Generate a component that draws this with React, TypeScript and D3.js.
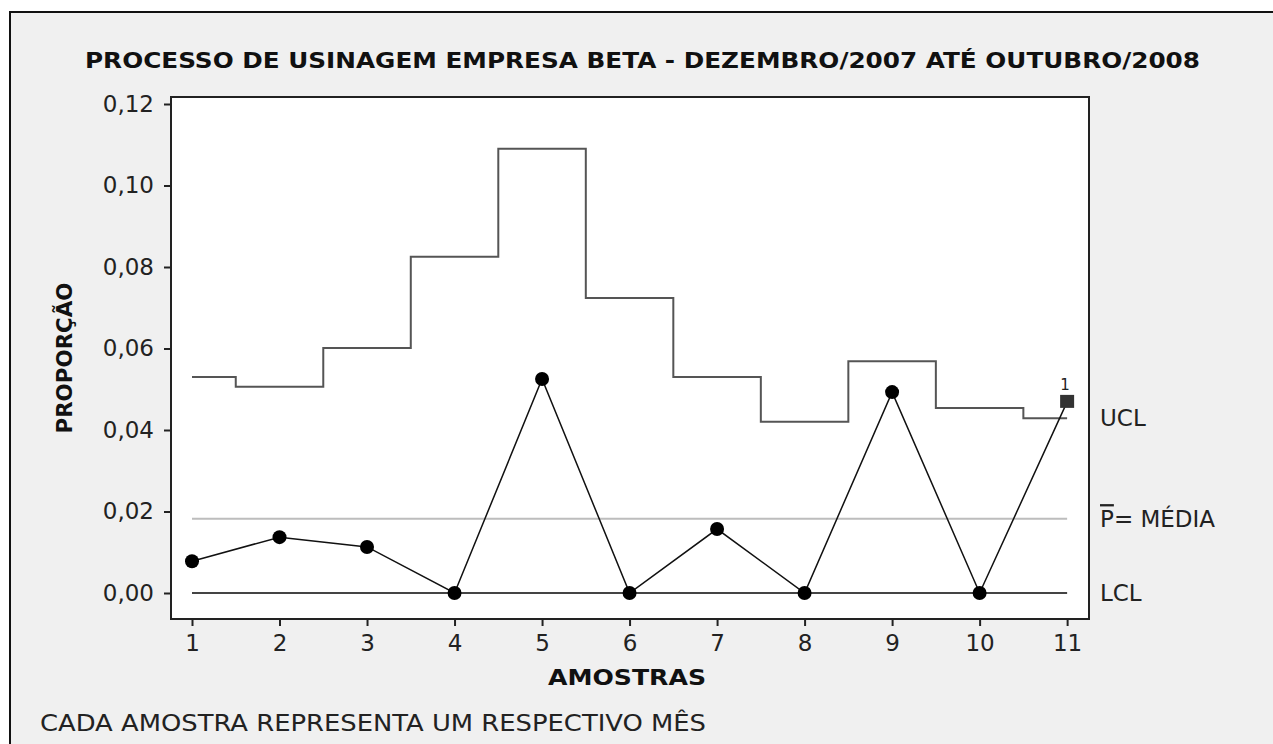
import React, { useEffect, useRef } from 'react'
import * as d3 from 'd3'

// amostras mensais (dez/2007 a out/2008)
const amostras = [1, 2, 3, 4, 5, 6, 7, 8, 9, 10, 11]
const proporcao = [0.0078, 0.0137, 0.0113, 0, 0.0525, 0, 0.0157, 0, 0.0493, 0, 0.0469]
const ucl = [0.053, 0.0506, 0.0601, 0.0825, 0.109, 0.0724, 0.053, 0.042, 0.0569, 0.0454, 0.0429]
const pMedia = 0.0182
const lcl = 0
const yTicks = [0, 0.02, 0.04, 0.06, 0.08, 0.1, 0.12]
// pontos que falharam o teste 1
const foraDeControle = [11]

const FONT = '"DejaVu Sans", Verdana, sans-serif'

export default function App () {
  const ref = useRef<SVGSVGElement>(null)

  useEffect(() => {
    const svg = d3.select(ref.current)
    svg.selectAll('*').remove()

    const left = 171
    const top = 97
    const right = 1089
    const bottom = 619

    const x = d3.scaleLinear().domain([0.76, 11.25]).range([left, right])
    const y = d3.scaleLinear().domain([0, 0.12]).range([593, 104])

    // moldura externa
    svg.append('rect')
      .attr('x', 10).attr('y', 12)
      .attr('width', 1300).attr('height', 800)
      .attr('fill', '#f0f0f0')
      .attr('stroke', '#111').attr('stroke-width', 2)

    svg.append('rect')
      .attr('x', left).attr('y', top)
      .attr('width', right - left).attr('height', bottom - top)
      .attr('fill', '#fff')
      .attr('stroke', '#222').attr('stroke-width', 2)

    // limite superior (degraus)
    const stepLine = d3.line<number>()
      .x((d, i) => x(amostras[i]))
      .y(d => y(d))
      .curve(d3.curveStep)

    svg.append('path')
      .attr('d', stepLine(ucl))
      .attr('fill', 'none')
      .attr('stroke', '#555').attr('stroke-width', 2)

    const x0 = x(amostras[0])
    const x1 = x(amostras[amostras.length - 1])

    svg.append('line')
      .attr('x1', x0).attr('x2', x1)
      .attr('y1', y(pMedia)).attr('y2', y(pMedia))
      .attr('stroke', '#bdbdbd').attr('stroke-width', 2)

    svg.append('line')
      .attr('x1', x0).attr('x2', x1)
      .attr('y1', y(lcl)).attr('y2', y(lcl))
      .attr('stroke', '#444').attr('stroke-width', 2)

    // proporcoes
    const dataLine = d3.line<number>()
      .x((d, i) => x(amostras[i]))
      .y(d => y(d))

    svg.append('path')
      .attr('d', dataLine(proporcao))
      .attr('fill', 'none')
      .attr('stroke', '#111').attr('stroke-width', 1.5)

    const pts = amostras.map((a, i) => ({ a, v: proporcao[i] }))

    svg.selectAll('circle.pt')
      .data(pts.filter(p => !foraDeControle.includes(p.a)))
      .enter().append('circle')
      .attr('class', 'pt')
      .attr('cx', d => x(d.a))
      .attr('cy', d => y(d.v))
      .attr('r', 7)
      .attr('fill', '#000')

    const fora = pts.filter(p => foraDeControle.includes(p.a))
    svg.selectAll('rect.fora')
      .data(fora)
      .enter().append('rect')
      .attr('class', 'fora')
      .attr('x', d => x(d.a) - 7)
      .attr('y', d => y(d.v) - 7)
      .attr('width', 14).attr('height', 13)
      .attr('fill', '#333')

    svg.selectAll('text.teste')
      .data(fora)
      .enter().append('text')
      .attr('class', 'teste')
      .attr('x', d => x(d.a) - 2)
      .attr('y', d => y(d.v) - 12)
      .attr('text-anchor', 'middle')
      .attr('font-family', FONT).attr('font-size', 15)
      .attr('fill', '#222')
      .text('1')

    // eixos
    const yAxis = svg.append('g')
      .attr('transform', 'translate(' + left + ',0)')
      .call(d3.axisLeft(y).tickValues(yTicks).tickSize(7).tickPadding(10)
        .tickFormat(d => d3.format('.2f')(+d).replace('.', ',')))
    yAxis.select('.domain').remove()
    yAxis.selectAll('line').attr('stroke', '#222').attr('stroke-width', 2)
    yAxis.selectAll('text')
      .attr('font-family', FONT).attr('font-size', 23).attr('fill', '#222')

    const xAxis = svg.append('g')
      .attr('transform', 'translate(0,' + bottom + ')')
      .call(d3.axisBottom(x).tickValues(amostras).tickSize(7).tickPadding(9)
        .tickFormat(d3.format('d')))
    xAxis.select('.domain').remove()
    xAxis.selectAll('line').attr('stroke', '#222').attr('stroke-width', 2)
    xAxis.selectAll('text')
      .attr('font-family', FONT).attr('font-size', 23).attr('fill', '#222')

    // rotulos das linhas de controle
    const rotulo = (txt: string, v: number) => svg.append('text')
      .attr('x', 1100).attr('y', y(v))
      .attr('dy', '0.36em')
      .attr('font-family', FONT).attr('font-size', 23).attr('fill', '#222')
      .text(txt)

    rotulo('UCL', ucl[ucl.length - 1])
    rotulo('LCL', lcl)
    const media = svg.append('text')
      .attr('x', 1100).attr('y', y(pMedia))
      .attr('dy', '0.36em')
      .attr('font-family', FONT).attr('font-size', 23).attr('fill', '#222')
    media.append('tspan').style('text-decoration', 'overline').text('P')
    media.append('tspan').text('= MÉDIA')

    // titulos
    svg.append('text')
      .attr('x', 85).attr('y', 68)
      .attr('font-family', FONT).attr('font-weight', 'bold').attr('font-size', 21)
      .attr('textLength', 1115).attr('lengthAdjust', 'spacingAndGlyphs')
      .attr('fill', '#111')
      .text('PROCESSO DE USINAGEM EMPRESA BETA - DEZEMBRO/2007 ATÉ OUTUBRO/2008')

    svg.append('text')
      .attr('x', 548).attr('y', 685)
      .attr('font-family', FONT).attr('font-weight', 'bold').attr('font-size', 22)
      .attr('textLength', 158).attr('lengthAdjust', 'spacingAndGlyphs')
      .attr('fill', '#111')
      .text('AMOSTRAS')

    svg.append('text')
      .attr('transform', 'translate(72,358) rotate(-90)')
      .attr('text-anchor', 'middle')
      .attr('font-family', FONT).attr('font-weight', 'bold').attr('font-size', 22)
      .attr('textLength', 151).attr('lengthAdjust', 'spacingAndGlyphs')
      .attr('fill', '#111')
      .text('PROPORÇÃO')

    svg.append('text')
      .attr('x', 40).attr('y', 731)
      .attr('font-family', FONT).attr('font-size', 23)
      .attr('textLength', 666).attr('lengthAdjust', 'spacingAndGlyphs')
      .attr('fill', '#222')
      .text('CADA AMOSTRA REPRESENTA UM RESPECTIVO MÊS')
  }, [])

  return (
    <svg ref={ref} width={1273} height={744}
      style={{ position: 'absolute', left: 0, top: 0, background: '#fff' }} />
  )
}
